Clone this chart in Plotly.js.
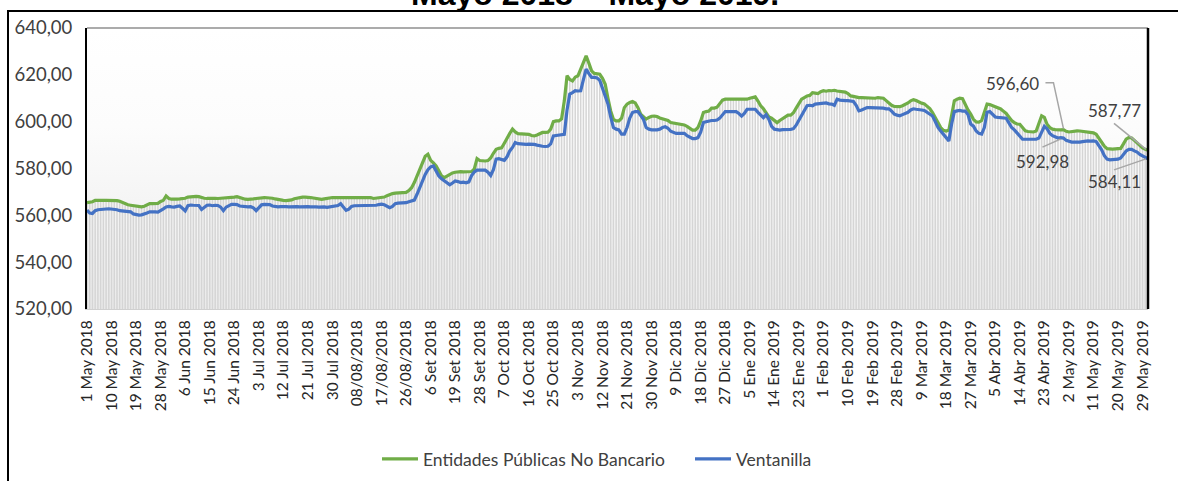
<!DOCTYPE html>
<html>
<head>
<meta charset="utf-8">
<script src="https://cdn.plot.ly/plotly-3.0.1.min.js"></script>
<style>
  html, body { margin:0; padding:0; background:#ffffff; width:1178px; height:481px; overflow:hidden; }
  #frame { position:absolute; left:7px; top:10px; width:1300px; height:600px; border-left:2px solid #000; border-top:2px solid #000; }
  #bg { position:absolute; left:87px; top:28px; width:1061px; height:281px;
        background:linear-gradient(to bottom, #ffffff 0%, #fcfcfc 35%, #f4f4f4 65%, #ebebeb 100%); }
  #chart { position:absolute; left:0; top:0; width:1178px; height:481px; }
</style>
</head>
<body>
<div id="frame"></div>
<div id="bg"></div>
<div id="chart"></div>
<script>
// Tick labels (one every 9 observations)
const tickLabels = ['1 May 2018','10 May 2018','19 May 2018','28 May 2018','6 Jun 2018','15 Jun 2018','24 Jun 2018','3 Jul 2018','12 Jul 2018','21 Jul 2018','30 Jul 2018','08/08/2018','17/08/2018','26/08/2018','6 Set 2018','19 Set 2018','28 Set 2018','7 Oct 2018','16 Oct 2018','25 Oct 2018','3 Nov 2018','12 Nov 2018','21 Nov 2018','30 Nov 2018','9 Dic 2018','18 Dic 2018','27 Dic 2018','5 Ene 2019','14 Ene 2019','23 Ene 2019','1 Feb 2019','10 Feb 2019','19 Feb 2019','28 Feb 2019','9 Mar 2019','18 Mar 2019','27 Mar 2019','5 Abr 2019','14 Abr 2019','23 Abr 2019','2 May 2019','11 May 2019','20 May 2019','29 May 2019'];
const tickStep = 9;

// Entidades Públicas No Bancario (green)
const entidades = [
565.4,565.6,565.8,566.4,566.5,566.5,566.4,566.4,566.4,
566.4,566.4,566.3,566.0,565.4,564.9,564.5,564.3,564.1,
564.0,563.8,563.6,563.9,564.6,565.0,565.0,564.9,565.1,
565.9,566.4,568.3,567.2,566.9,566.8,566.9,567.0,567.1,
567.3,567.8,568.0,568.1,568.1,568.0,567.5,567.3,567.2,
567.3,567.2,567.3,567.2,567.3,567.3,567.4,567.3,567.4,
567.8,568.0,567.6,567.2,566.9,566.8,566.8,567.0,567.2,
567.4,567.5,567.6,567.5,567.5,567.3,567.0,566.7,566.5,
566.4,566.3,566.4,566.6,567.1,567.4,567.6,567.8,567.8,
567.8,567.6,567.4,567.1,566.9,566.8,567.0,567.3,567.5,
567.6,567.6,567.6,567.7,567.6,567.6,567.6,567.7,567.8,
567.8,567.7,567.5,567.6,567.7,567.6,567.2,567.3,567.5,
567.6,567.8,568.4,569.0,569.3,569.5,569.6,569.7,569.7,
569.8,570.6,571.8,574.0,576.8,580.0,583.2,585.2,586.1,
583.5,582.4,581.1,579.0,576.8,576.1,576.9,577.6,578.1,
578.4,578.7,578.7,578.6,578.7,578.8,578.7,579.8,584.2,
583.4,583.2,583.2,583.4,584.5,586.5,588.2,588.6,588.8,
590.8,593.2,595.0,596.8,595.6,594.9,594.9,594.8,594.9,
594.6,594.1,593.9,594.3,595.0,595.4,595.4,595.5,596.8,
600.0,600.3,600.3,601.2,608.9,619.6,618.0,617.4,619.0,
619.6,622.5,626.0,628.1,625.0,621.7,620.6,620.3,620.3,
618.5,616.0,610.0,604.6,601.0,600.3,600.3,601.5,606.0,
607.5,608.2,608.6,608.0,606.0,603.2,602.0,601.1,601.8,
602.3,602.4,602.2,601.6,601.2,601.0,600.5,599.6,599.4,
599.3,599.0,598.8,598.6,598.0,597.0,596.4,596.4,597.5,
600.3,603.9,604.3,604.5,605.8,605.8,606.2,608.0,609.2,
609.6,609.6,609.6,609.5,609.4,609.6,609.6,609.5,609.6,
610.0,610.4,610.6,608.8,606.8,605.5,603.9,602.0,601.5,
600.5,599.6,600.5,601.4,602.3,602.8,602.8,603.8,605.8,
608.0,609.6,610.3,611.0,611.2,612.4,612.2,612.0,612.8,
613.2,613.0,613.3,613.2,613.4,613.1,613.0,612.8,612.6,
612.0,611.0,610.8,610.5,610.3,610.3,610.2,610.3,610.3,
610.2,610.0,610.3,610.2,610.0,609.0,608.0,607.0,606.5,
606.4,606.4,606.8,607.3,608.0,608.9,609.4,609.0,608.4,
607.9,607.6,606.8,605.6,603.9,601.8,599.6,597.5,596.3,
596.0,596.4,602.6,608.9,609.6,610.0,609.8,607.0,605.0,
603.2,601.0,599.9,599.8,600.5,604.0,607.5,607.3,606.8,
606.2,606.0,605.4,604.5,603.5,602.0,600.5,599.6,599.0,
598.9,597.5,596.1,595.8,595.6,595.6,596.0,599.0,602.5,
601.8,598.9,597.5,596.8,596.6,596.4,596.5,596.60,595.9,
595.6,595.8,596.0,596.1,596.0,595.9,595.8,595.6,595.5,
595.2,594.6,593.0,591.5,589.5,588.5,588.3,588.3,588.4,
588.4,588.6,590.5,592.5,593.3,593.0,592.0,590.8,589.8,
588.8,588.2,587.77
];

// Ventanilla (blue)
const ventanilla = [
562.2,561.0,560.8,562.0,562.4,562.6,562.6,562.7,562.8,
562.7,562.6,562.4,562.0,561.9,562.0,561.9,561.5,560.6,
560.3,560.1,560.2,560.5,561.0,561.5,561.6,561.5,561.4,
562.0,562.8,563.6,563.8,563.6,563.5,563.8,564.0,563.0,
561.9,564.1,564.4,564.3,564.4,564.2,562.5,563.6,564.3,
564.4,564.1,564.3,564.2,563.5,562.0,563.5,564.2,564.7,
564.7,564.6,564.0,563.8,563.7,563.6,563.7,563.2,562.0,
563.5,564.5,564.7,564.6,564.6,564.0,563.7,563.6,563.7,
563.8,563.7,563.6,563.7,563.8,563.7,563.6,563.7,563.8,
563.7,563.6,563.7,563.6,563.5,563.6,563.6,563.4,563.6,
563.6,563.7,564.2,565.0,563.5,562.1,562.6,563.8,564.1,
564.1,564.2,564.0,564.1,564.2,564.1,564.0,564.3,564.6,
564.8,564.5,564.0,563.3,563.8,565.0,565.2,565.3,565.2,
565.4,565.8,566.2,566.5,569.0,572.0,574.7,577.5,579.5,
580.7,581.1,579.0,576.8,575.6,574.7,573.5,573.0,573.8,
574.7,574.4,574.0,574.2,573.9,574.3,577.0,578.5,579.3,
579.3,579.2,579.3,578.4,577.0,579.5,584.0,584.2,583.8,
583.5,585.0,587.5,589.0,591.1,590.6,590.4,590.4,590.3,
590.4,590.4,590.3,590.0,589.6,589.5,589.4,589.5,590.5,
593.9,594.1,594.3,594.5,594.6,605.0,611.8,612.4,613.2,
613.1,613.2,618.0,622.4,620.5,618.9,618.9,618.7,617.6,
614.5,611.0,607.5,602.0,597.5,596.8,596.5,594.7,594.7,
597.5,601.5,603.9,604.3,604.3,602.5,601.0,597.5,596.8,
596.5,596.4,596.5,596.8,597.5,597.8,597.2,595.9,595.5,
595.0,595.0,595.1,595.0,594.0,593.3,592.8,592.8,593.2,
595.5,599.6,600.0,600.3,600.5,600.5,600.7,601.5,603.0,
604.3,604.3,604.4,604.2,604.3,603.5,602.4,603.5,605.3,
605.3,605.4,605.3,604.0,603.0,601.7,603.0,601.0,598.0,
596.8,596.6,596.4,596.6,596.6,596.6,596.7,597.0,598.5,
600.6,602.5,604.3,606.8,607.0,606.8,607.5,607.6,607.5,
607.8,608.0,607.6,607.5,607.0,609.6,609.2,609.0,609.0,
609.0,608.8,608.6,607.0,604.6,605.0,605.5,606.0,606.0,
606.0,605.8,605.9,606.0,605.8,605.5,605.5,604.5,603.2,
602.8,602.5,603.0,603.5,604.0,605.0,605.5,605.3,605.0,
605.0,604.8,604.0,603.0,602.4,600.0,597.5,596.0,594.7,
593.0,591.8,599.0,604.3,604.6,604.8,604.5,604.5,603.0,
599.0,598.1,596.0,595.0,594.7,597.5,604.0,604.3,603.0,
602.0,601.8,601.8,601.6,601.5,599.5,597.5,596.5,595.0,
594.0,592.5,592.5,592.5,592.5,592.5,592.5,593.0,595.5,
598.0,597.0,595.0,594.0,593.5,593.0,593.2,592.98,592.0,
591.5,591.3,591.3,591.2,591.3,591.5,591.8,591.8,591.7,
591.8,591.5,590.0,588.0,585.5,584.0,583.7,583.7,583.8,
584.0,584.5,586.0,587.5,588.2,588.2,587.5,587.0,586.0,
585.3,584.6,584.11
];

// Labelled points (index of observation)
const calloutIndex = [358, 358, 389, 389];
const calloutSeries = [entidades, ventanilla, entidades, ventanilla];

const xIdx = entidades.map((_, i) => i);
const fmt = v => v.toFixed(2).replace('.', ',');

const FONT = 'Lato, "Open Sans", sans-serif';
const TXT = '#404040';

const traces = [
  { type:'bar', x:xIdx, y:entidades, marker:{color:'#d5d5d5', line:{width:0}}, showlegend:false, hoverinfo:'skip' },
  { type:'scatter', mode:'lines', name:'Entidades Públicas No Bancario', x:xIdx, y:entidades,
    line:{color:'#70ad47', width:3.2} },
  { type:'scatter', mode:'lines', name:'Ventanilla', x:xIdx, y:ventanilla,
    line:{color:'#4472c4', width:3.2} }
];

// label placement offsets in pixels (text centre) and leader paths
const labelPos = [
  {dx:-51, dy:46,  path:'M0,1L-10,47L-18,47'},
  {dx:-21, dy:-23, path:'M-3,-1L-21,-9'},
  {dx:-34, dy:40,  path:'M-2,1L-34,27'},
  {dx:-34, dy:-23, path:'M-2,0L-34,-11'}
];

const annotations = calloutIndex.map((idx, k) => ({
  x: idx, y: calloutSeries[k][idx], xref:'x', yref:'y',
  text: fmt(calloutSeries[k][idx]), showarrow:false,
  xshift: labelPos[k].dx, yshift: labelPos[k].dy,
  font:{family:FONT, size:17, color:TXT}
}));
annotations.push({
  text:'<b>Mayo 2018 – Mayo 2019.</b>', xref:'paper', yref:'paper',
  x:0.479, y:1.05, xanchor:'center', yanchor:'bottom', showarrow:false,
  font:{family:'Arial, "Liberation Sans", sans-serif', size:32, color:'#000'}
});

const shapes = calloutIndex.map((idx, k) => ({
  type:'path', xref:'x', yref:'y', xsizemode:'pixel', ysizemode:'pixel',
  xanchor: idx, yanchor: calloutSeries[k][idx], path: labelPos[k].path,
  line:{color:'#a6a6a6', width:1.5}
}));
shapes.push(
  {type:'line', xref:'paper', yref:'paper', x0:0, x1:1, y0:1, y1:1, line:{color:'#595959', width:1.2}},
  {type:'line', xref:'paper', yref:'paper', x0:1, x1:1, y0:0, y1:1, line:{color:'#000', width:2.5}}
);

const layout = {
  width:1178, height:481,
  margin:{l:87, r:30, t:28, b:172, pad:0, autoexpand:false},
  paper_bgcolor:'rgba(0,0,0,0)', plot_bgcolor:'rgba(0,0,0,0)',
  separators:',.',
  bargap:0.45,
  showlegend:true,
  legend:{orientation:'h', xref:'container', yref:'container', x:377/1178, xanchor:'left',
          y:1 - 459/481, yanchor:'middle',
          entrywidth:262, entrywidthmode:'pixels',
          font:{family:FONT, size:17.5, color:TXT}, traceorder:'normal', itemwidth:36},
  xaxis:{ range:[0, entidades.length - 1], tickvals: tickLabels.map((_, k) => k * tickStep),
          ticktext: tickLabels, tickangle:-90, showgrid:false, zeroline:false, automargin:false,
          showline:true, linecolor:'#d0d0d0', linewidth:1, ticks:'', ticklabelstandoff:4,
          tickfont:{family:FONT, size:15.5, color:'#262626'} },
  yaxis:{ range:[520, 640], tickvals:[520,540,560,580,600,620,640], tickformat:'.2f', automargin:false,
          showgrid:false, zeroline:false, showline:true, linecolor:'#000', linewidth:2,
          ticks:'', ticklabelstandoff:9, tickfont:{family:FONT, size:18.5, color:TXT} },
  annotations, shapes
};

Plotly.newPlot('chart', traces, layout, {staticPlot:true, displayModeBar:false});
</script>
</body>
</html>
